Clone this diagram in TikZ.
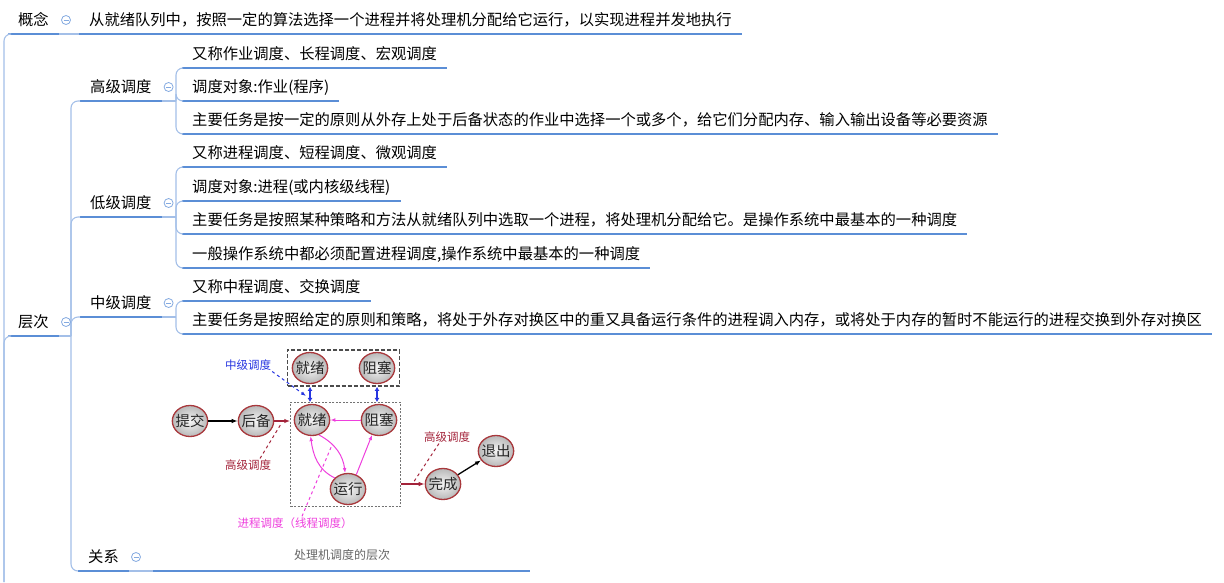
\documentclass[tikz,border=0pt]{standalone}
\usepackage{fontspec}
\setmainfont{Noto Sans CJK SC}
\usetikzlibrary{arrows.meta,shapes.geometric,fit}
\definecolor{mapline}{HTML}{5B8ED6}
\definecolor{mapthin}{HTML}{A3BFE8}
\definecolor{ballred}{HTML}{A8383C}
\definecolor{hiblue}{HTML}{2635E0}
\definecolor{hired}{HTML}{A3233A}
\definecolor{hipink}{HTML}{EE3FDD}
\tikzset{
  topic/.style={anchor=south west,inner xsep=10pt,inner ysep=5pt,text height=11pt,text depth=3pt,font=\fontsize{15.3}{18}\selectfont},
  uline/.style={mapline,line width=2.4pt},
  thinline/.style={mapthin,line width=1.1pt,rounded corners=7pt},
  fold/.style={circle,draw=mapline!75,line width=0.8pt,minimum size=9pt,inner sep=0pt,
    path picture={\draw[mapline!75,line width=0.8pt] ([xshift=-2.5pt]path picture bounding box.center) -- ([xshift=2.5pt]path picture bounding box.center);}},
  ball/.style={ellipse,draw=ballred,line width=1.3pt,shade,shading=radial,inner color=gray!8,outer color=gray!55,minimum width=34pt,minimum height=31pt,inner xsep=-2pt,inner ysep=0pt,font=\fontsize{14.5}{17}\selectfont,text=black!85},
  tag/.style={font=\fontsize{11.5}{13}\selectfont,inner sep=1pt},
  pinkarr/.style={hipink,line width=1pt,-{Latex[length=5pt]}},
}
\begin{document}
\begin{tikzpicture}[x=1pt,y=-1pt]
\useasboundingbox (0,0) rectangle (1224,582);
% mind map topics
\node[topic] (gainian) at (8,34) {概念};
\node[topic] (gndef) at (79,34) {从就绪队列中，按照一定的算法选择一个进程并将处理机分配给它运行，以实现进程并发地执行};
\node[topic] (cengci) at (8,336) {层次};
\node[topic] (gaoji) at (80,101) {高级调度};
\node[topic] (diji) at (80,217) {低级调度};
\node[topic] (zhongji) at (80,317) {中级调度};
\node[topic] (guanxi) at (78,571) {关系};
\node[topic] (g1) at (182,68) {又称作业调度、长程调度、宏观调度};
\node[topic] (g2) at (182,101) {调度对象:作业(程序)};
\node[topic] (g3) at (182,134) {主要任务是按一定的原则从外存上处于后备状态的作业中选择一个或多个，给它们分配内存、输入输出设备等必要资源};
\node[topic] (d1) at (182,167) {又称进程调度、短程调度、微观调度};
\node[topic] (d2) at (182,201) {调度对象:进程(或内核级线程)};
\node[topic] (d3) at (182,234) {主要任务是按照某种策略和方法从就绪队列中选取一个进程，将处理机分配给它。是操作系统中最基本的一种调度};
\node[topic] (d4) at (182,268) {一般操作系统中都必须配置进程调度,操作系统中最基本的一种调度};
\node[topic] (z1) at (182,301) {又称中程调度、交换调度};
\node[topic] (z2) at (182,334) {主要任务是按照给定的原则和策略，将处于外存对换区中的重又具备运行条件的进程调入内存，或将处于内存的暂时不能运行的进程交换到外存对换区};
\coordinate (figL) at (153,571);
\coordinate (figR) at (530,571);
\foreach \n in {gainian,gndef,cengci,gaoji,diji,zhongji,guanxi,g1,g2,g3,d1,d2,d3,d4,z1,z2}
  \draw[uline] (\n.south west) -- (\n.south east);
\draw[uline] (figL) -- (figR);
% connectors
\coordinate (roothub) at (4,582);
\coordinate (hubC) at (71,336);
\coordinate (hubG) at (176,101);
\coordinate (hubD) at (176,217);
\coordinate (hubZ) at (176,317);
\draw[thinline] (roothub) |- (gainian.south west);
\draw[thinline] (roothub) |- (cengci.south west);
\draw[thinline] (gainian.south east) -- (gndef.south west);
\draw[thinline] (cengci.south east) -- (hubC);
\foreach \n in {gaoji,diji,zhongji,guanxi}
  \draw[thinline] (hubC) |- (\n.south west);
\draw[thinline] (guanxi.south east) -- (figL);
\draw[thinline] (gaoji.south east) -- (hubG);
\foreach \n in {g1,g2,g3}
  \draw[thinline] (hubG) |- (\n.south west);
\draw[thinline] (diji.south east) -- (hubD);
\foreach \n in {d1,d2,d3,d4}
  \draw[thinline] (hubD) |- (\n.south west);
\draw[thinline] (zhongji.south east) -- (hubZ);
\foreach \n in {z1,z2}
  \draw[thinline] (hubZ) |- (\n.south west);
\foreach \n in {gainian,cengci,gaoji,diji,zhongji,guanxi}
  \node[fold] (f\n) at ([xshift=7pt,yshift=14pt]\n.south east) {};
% figure: levels of scheduling
\node[ball] (tijiao) at (190,421) {提交};
\node[ball] (houbei) at (256,421) {后备};
\node[ball] (jiuxu) at (312,420) {就绪};
\node[ball] (zuse) at (379,420) {阻塞};
\node[ball] (yunxing) at (348,489) {运行};
\node[ball] (wancheng) at (443,484) {完成};
\node[ball] (tuichu) at (496,451) {退出};
\node[ball] (jiuxuW) at (310,368) {就绪};
\node[ball] (zuseW) at (377,368) {阻塞};
\node[draw=black!70,dash pattern=on 4pt off 2pt,line width=1.4pt,inner xsep=4pt,inner ysep=2pt,fit=(jiuxuW)(zuseW)] (swapbox) {};
\node[draw=black!55,dash pattern=on 2pt off 1.5pt,line width=0.8pt,inner xsep=3pt,inner ysep=1.5pt,fit=(jiuxu)(zuse)(yunxing)] (membox) {};
\draw[hiblue,line width=2pt,{Latex[length=4pt,width=5pt]}-{Latex[length=4pt,width=5pt]}] (jiuxuW.south |- swapbox.south) -- (jiuxuW.south |- membox.north);
\draw[hiblue,line width=2pt,{Latex[length=4pt,width=5pt]}-{Latex[length=4pt,width=5pt]}] (zuseW.south |- swapbox.south) -- (zuseW.south |- membox.north);
\node[tag,text=hiblue] (lblZ) at (248,365) {中级调度};
\coordinate (zTip) at (306,396);
\draw[hiblue,dashed,line width=1pt,-{Latex[length=5pt]}] (lblZ.south east) -- (zTip);
\draw[black,line width=1.3pt,-{Latex[length=6pt]}] (tijiao) -- (houbei);
\draw[hired,line width=1.5pt,-{Latex[length=6pt]}] (houbei) -- (membox.west |- houbei);
\node[tag,text=hired] (lblG1) at (248,465) {高级调度};
\coordinate (g1Tip) at (281,424);
\draw[hired,dashed,line width=1pt] ([xshift=12pt]lblG1.north) -- (g1Tip);
\draw[pinkarr] (zuse) -- (jiuxu);
\draw[pinkarr] (yunxing.140) .. controls (318,470) and (313,455) .. (jiuxu.-95);
\draw[pinkarr] (jiuxu.-65) .. controls (336,444) and (343,456) .. (yunxing.100);
\draw[pinkarr] (yunxing.60) -- (zuse.-115);
\node[tag,text=hipink] (lblP) at (295,523) {进程调度（线程调度）};
\coordinate (pTip) at (332,445);
\draw[hipink,dashed,line width=1pt] ([xshift=7pt]lblP.north) -- (pTip);
\draw[hired,line width=1.5pt,-{Latex[length=6pt]}] (membox.east |- wancheng) -- (wancheng);
\node[tag,text=hired] (lblG2) at (447,437) {高级调度};
\coordinate (g2Tip) at (413,483);
\draw[hired,dashed,line width=1pt] ([xshift=-8pt]lblG2.south) -- (g2Tip);
\draw[black,line width=1.3pt,-{Latex[length=6pt]}] (wancheng) -- (tuichu);
\node[font=\fontsize{12}{14}\selectfont,text=black!60] (caption) at (342,555) {处理机调度的层次};
\end{tikzpicture}
\end{document}
